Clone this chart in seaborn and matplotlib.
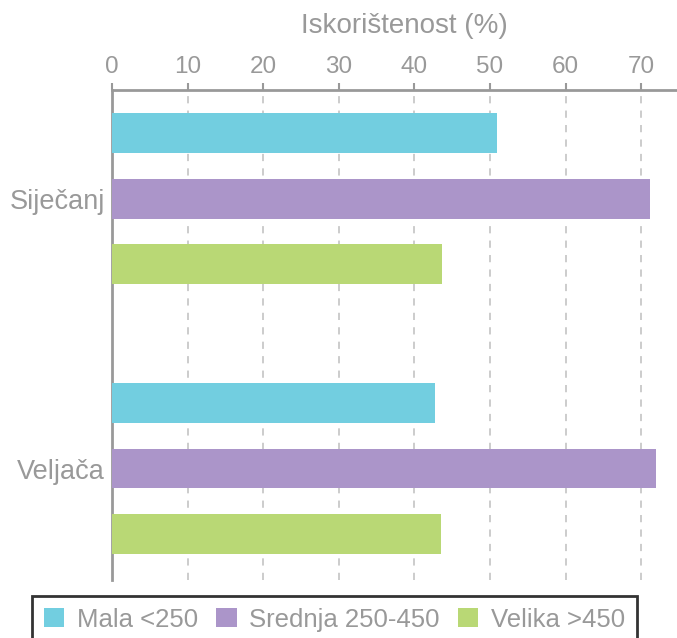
import numpy as np
import pandas as pd
import matplotlib
matplotlib.use('Agg')
import matplotlib.pyplot as plt
import seaborn as sns

# --- data ---
months = ['Siječanj', 'Veljača']
sizes = ['Mala <250', 'Srednja 250-450', 'Velika >450']
mala = [50.9, 42.7]
srednja = [71.1, 71.9]
velika = [43.6, 43.5]
colors = ['#72CEE0', '#AB95C9', '#B9D875']
xticks = [0, 10, 20, 30, 40, 50, 60, 70]

df = pd.DataFrame({
    'month': months * 3,
    'size': [sizes[0]] * 2 + [sizes[1]] * 2 + [sizes[2]] * 2,
    'value': mala + srednja + velika,
})

sns.set_style('white')
plt.rcParams['font.family'] = ['Liberation Sans', 'DejaVu Sans']
grey = '#999999'

fig = plt.figure(figsize=(6.77, 6.38), dpi=100)
ax = fig.add_axes([112 / 677, 58 / 638, 567 / 677, 490 / 638])

sns.barplot(data=df, x='value', y='month', hue='size', hue_order=sizes,
            palette=colors, orient='h', width=0.723, gap=0.386,
            saturation=1, linewidth=0, ax=ax, zorder=3)

ax.set_xlim(0, 75)
ax.set_ylim(1.413, -0.402)

# x axis on top
ax.xaxis.set_label_position('top')
ax.xaxis.tick_top()
ax.set_xticks(xticks)
ax.set_xlabel('Iskorištenost (%)', fontsize=20, color=grey)
ax.xaxis.label.set_va('baseline')
ax.xaxis.set_label_coords((404 - 112) / 567, 1 + 57 / 490)
ax.set_ylabel('')

ax.tick_params(axis='x', colors=grey, labelcolor=grey, labelsize=17.5,
               direction='out', length=5, width=1.5, pad=3.5, top=True, bottom=False)
ax.tick_params(axis='y', length=0, labelcolor=grey, labelsize=19.5, pad=5)

ax.grid(axis='x', color='#c8c8c8', linestyle=(0, (4, 4)), linewidth=1.3, zorder=0)
ax.grid(axis='y', visible=False)
ax.set_axisbelow(True)

for side in ['right', 'bottom']:
    ax.spines[side].set_visible(False)
for side in ['top', 'left']:
    ax.spines[side].set_color(grey)
    ax.spines[side].set_linewidth(2)

handles, labels = ax.get_legend_handles_labels()
if ax.get_legend() is not None:
    ax.get_legend().remove()
leg = fig.legend(handles, labels, loc='upper center', ncol=3,
                 bbox_to_anchor=(334.5 / 677, 1 - 596 / 638),
                 fontsize=18.5, frameon=True, fancybox=False,
                 handlelength=0.8, handleheight=0.8, handletextpad=0.5,
                 columnspacing=0.7, borderpad=0.45, borderaxespad=0)
leg.get_frame().set_edgecolor('black')
leg.get_frame().set_linewidth(2)
for t in leg.get_texts():
    t.set_color(grey)

fig.savefig('out.png', dpi=100)
